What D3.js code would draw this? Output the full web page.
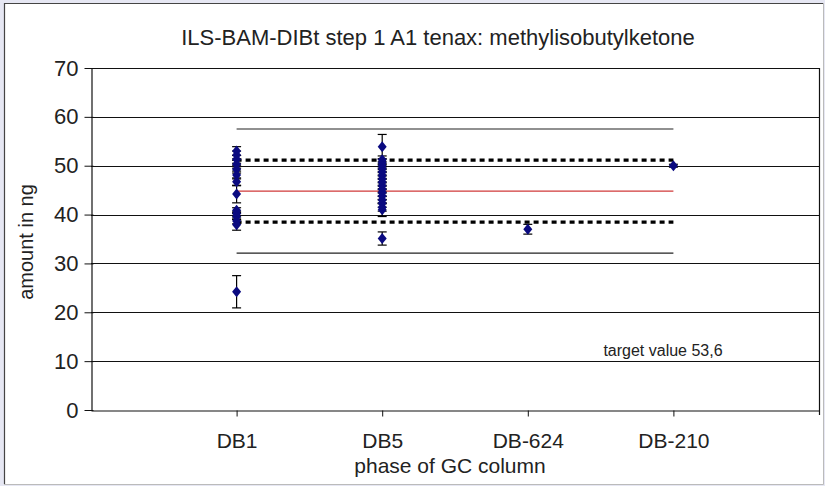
<!DOCTYPE html>
<html><head><meta charset="utf-8">
<script src="https://cdn.jsdelivr.net/npm/d3@7"></script>
<style>
html,body{margin:0;padding:0;background:#e6e7f3;}
svg{display:block;font-family:"Liberation Sans",Arial,sans-serif;}
</style></head>
<body>
<svg id="chart" width="825" height="486"></svg>
<script>
const categories = ["DB1", "DB5", "DB-624", "DB-210"];
const yTicks = [0, 10, 20, 30, 40, 50, 60, 70];

// individual lab results: category, value, error
const pointCategory = [
  "DB1","DB1","DB1","DB1","DB1","DB1","DB1","DB1","DB1","DB1","DB1","DB1","DB1","DB1",
  "DB5","DB5","DB5","DB5","DB5","DB5","DB5","DB5","DB5","DB5","DB5","DB5","DB5","DB5","DB5","DB5","DB5","DB5",
  "DB-624","DB-210"
];
const pointValue = [
  53.0, 52.2, 51.3, 50.3, 49.3, 48.1, 46.7, 44.2, 40.9, 40.2, 39.6, 38.7, 37.9, 24.2,
  53.9, 51.2, 50.6, 50.0, 49.4, 48.7, 48.0, 47.3, 46.6, 45.9, 45.2, 44.5, 43.8, 43.0, 42.3, 41.5, 41.0, 35.1,
  37.0, 50.0
];
const pointError = [
  0.9, 0.8, 0.8, 0.8, 0.8, 0.8, 0.8, 1.8, 0.5, 0.5, 0.6, 0.6, 1.1, 3.3,
  2.5, 0.8, 0.8, 0.8, 0.8, 0.8, 0.8, 0.8, 0.8, 0.8, 0.8, 0.8, 0.8, 0.8, 0.8, 0.8, 1.4, 1.35,
  1.0, 0.3
];

const meanValue = 44.8;
const innerLimits = [51.15, 38.45];
const outerLimits = [57.5, 32.1];
const targetText = "target value 53,6";

const title = "ILS-BAM-DIBt step 1 A1 tenax: methylisobutylketone";
const yTitle = "amount in ng";
const xTitle = "phase of GC column";

(function () {
const svg = d3.select("#chart");
const W = 825, H = 486;
const pLeft = 91, pRight = 819, pTop = 68, pBottom = 410;
const FONT = "Liberation Sans, Arial, sans-serif";

// frame
svg.append("rect").attr("x", 0).attr("y", 0).attr("width", W).attr("height", H).attr("fill", "#e6e7f3");
svg.append("rect").attr("x", 4).attr("y", 3).attr("width", 819).attr("height", 481).attr("fill", "#fff");
svg.append("path").attr("d", "M4.5,484 V3.5 H823").attr("fill", "none").attr("stroke", "#444").attr("stroke-width", 1.2);
svg.append("path").attr("d", "M823.5,3 V484.5 H4").attr("fill", "none").attr("stroke", "#bbb").attr("stroke-width", 1);

const x = d3.scaleLinear().domain([0, categories.length + 1]).range([pLeft, pRight]);
const y = d3.scaleLinear().domain([0, 70]).range([pBottom, pTop]);
const cx = c => x(categories.indexOf(c) + 1);

// gridlines
svg.append("g").selectAll("line").data(yTicks.filter(d => d > 0)).join("line")
  .attr("x1", pLeft).attr("x2", pRight)
  .attr("y1", d => Math.round(y(d)) + 0.5).attr("y2", d => Math.round(y(d)) + 0.5)
  .attr("stroke", "#111").attr("stroke-width", 1.2);

// right border
svg.append("line").attr("x1", pRight + 0.5).attr("x2", pRight + 0.5).attr("y1", pTop).attr("y2", pBottom + 5)
  .attr("stroke", "#111").attr("stroke-width", 1.2);

// y axis
const yAxis = svg.append("g").attr("transform", `translate(${pLeft + 0.5},0)`)
  .call(d3.axisLeft(y).tickValues(yTicks).tickSize(7).tickSizeOuter(0).tickPadding(6));
yAxis.select(".domain").attr("stroke", "#111").attr("stroke-width", 1.2);
yAxis.selectAll(".tick line").attr("stroke", "#111").attr("x2", -7).attr("x1", 2);
yAxis.selectAll(".tick text").attr("font-size", 22).attr("fill", "#222").attr("font-family", FONT);

// x axis
const xAxis = svg.append("g").attr("transform", `translate(0,${pBottom + 0.5})`)
  .call(d3.axisBottom(x).tickValues(categories.map((c, i) => i + 1))
    .tickFormat(d => categories[d - 1]).tickSize(6).tickSizeOuter(0).tickPadding(17));
xAxis.select(".domain").attr("stroke", "#111").attr("stroke-width", 1.2);
xAxis.selectAll(".tick line").attr("stroke", "#111");
xAxis.selectAll(".tick text").attr("font-size", 21).attr("fill", "#222").attr("font-family", FONT);

// reference lines
const x0 = cx(categories[0]), x1 = cx(categories[categories.length - 1]);
svg.append("g").selectAll("line").data(outerLimits).join("line")
  .attr("x1", x0).attr("x2", x1).attr("y1", d => y(d)).attr("y2", d => y(d))
  .attr("stroke", "#222").attr("stroke-width", 1.1);
svg.append("g").selectAll("line").data(innerLimits).join("line")
  .attr("x1", x0).attr("x2", x1).attr("y1", d => y(d)).attr("y2", d => y(d))
  .attr("stroke", "#000").attr("stroke-width", 3.2).attr("stroke-dasharray", "5,4");
svg.append("line").attr("x1", x0).attr("x2", x1).attr("y1", y(meanValue)).attr("y2", y(meanValue))
  .attr("stroke", "#d03a3a").attr("stroke-width", 1.1);

// error bars
const pts = pointValue.map((v, i) => ({c: pointCategory[i], v, e: pointError[i]}));
const eb = svg.append("g").attr("stroke", "#000").attr("stroke-width", 1.2);
eb.selectAll(".v").data(pts).join("line").attr("class", "v")
  .attr("x1", d => cx(d.c)).attr("x2", d => cx(d.c))
  .attr("y1", d => y(d.v + d.e)).attr("y2", d => y(d.v - d.e));
eb.selectAll(".t").data(pts).join("line").attr("class", "t")
  .attr("x1", d => cx(d.c) - 4.5).attr("x2", d => cx(d.c) + 4.5)
  .attr("y1", d => y(d.v + d.e)).attr("y2", d => y(d.v + d.e));
eb.selectAll(".b").data(pts).join("line").attr("class", "b")
  .attr("x1", d => cx(d.c) - 4.5).attr("x2", d => cx(d.c) + 4.5)
  .attr("y1", d => y(d.v - d.e)).attr("y2", d => y(d.v - d.e));

// diamonds
svg.append("g").selectAll("path").data(pts).join("path")
  .attr("transform", d => `translate(${cx(d.c)},${y(d.v)})`)
  .attr("d", "M0,-5.5 L4.5,0 L0,5.5 L-4.5,0 Z")
  .attr("fill", "#0a0a80");

// texts
svg.append("text").attr("x", 438).attr("y", 45).attr("text-anchor", "middle")
  .attr("font-size", 22).attr("fill", "#222").text(title);
svg.append("text").attr("transform", "translate(33,242) rotate(-90)").attr("text-anchor", "middle")
  .attr("font-size", 20).attr("fill", "#222").text(yTitle);
svg.append("text").attr("x", 450).attr("y", 473).attr("text-anchor", "middle")
  .attr("font-size", 21).attr("fill", "#222").text(xTitle);
svg.append("text").attr("x", 663).attr("y", 356).attr("text-anchor", "middle")
  .attr("font-size", 16).attr("fill", "#222").text(targetText);
})();
</script>
</body></html>
